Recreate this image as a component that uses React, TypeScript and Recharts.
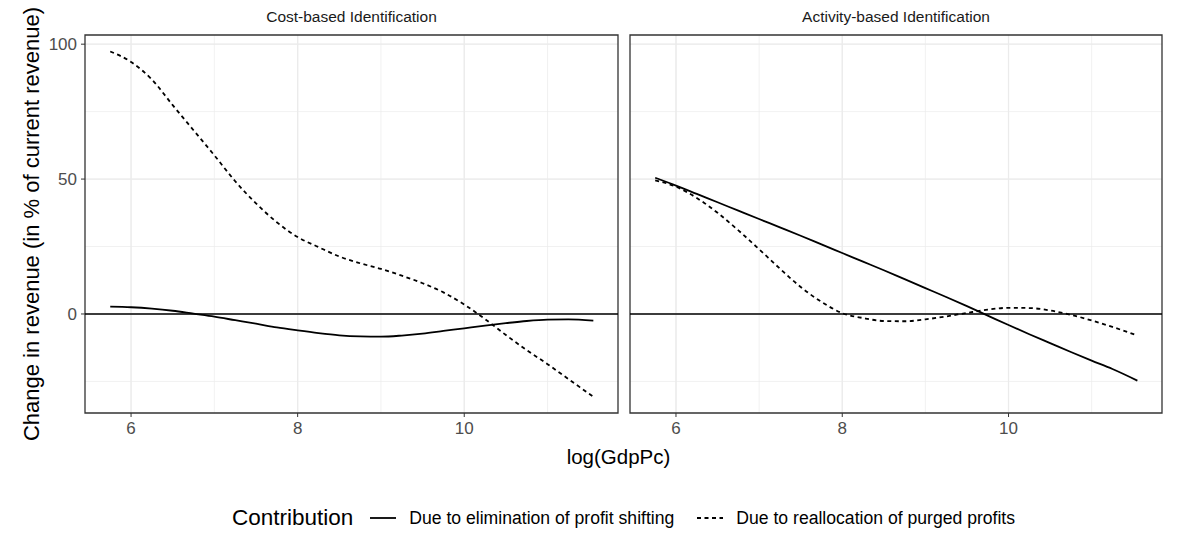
import React from 'react';
import {
  LineChart, Line, XAxis, YAxis, CartesianGrid, ReferenceLine, ReferenceArea
} from 'recharts';

// log(GdpPc) grid shared by both facets
const GDP = [5.75, 6, 6.25, 6.5, 6.75, 7, 7.25, 7.5, 7.75, 8, 8.25, 8.5, 8.75, 9, 9.25, 9.5, 9.75, 10, 10.25, 10.5, 10.75, 11, 11.25, 11.55];

// Cost-based Identification
const COST_ELIM = [2.7, 2.5, 2.0, 1.2, 0.1, -1.0, -2.3, -3.6, -5.0, -6.1, -7.1, -7.9, -8.3, -8.4, -8.0, -7.3, -6.3, -5.3, -4.3, -3.4, -2.6, -2.1, -2.0, -2.5];
const COST_REALLOC = [97.3, 93.4, 86.9, 77.4, 68.1, 58.8, 49.2, 41.0, 34.0, 28.5, 24.8, 21.3, 18.8, 16.7, 14.2, 11.4, 8.0, 3.5, -1.9, -7.8, -13.4, -18.6, -24.1, -30.7];

// Activity-based Identification
const ACT_ELIM = [50.5, 47.6, 44.5, 41.4, 38.3, 35.2, 32.1, 29.0, 25.8, 22.6, 19.4, 16.2, 12.9, 9.6, 6.3, 2.9, -0.6, -4.1, -7.5, -10.8, -14.1, -17.3, -20.4, -24.7];
const ACT_REALLOC = [49.5, 47.2, 43.0, 37.5, 31.0, 24.0, 16.8, 10.0, 4.5, 0.3, -1.5, -2.6, -2.7, -2.0, -0.9, 0.4, 1.6, 2.3, 2.2, 1.3, -0.3, -2.4, -4.8, -8.0];

const X_TICKS = [6, 8, 10];
const X_GRID = [6, 7, 8, 9, 10, 11];
const Y_TICKS = [0, 50, 100];
const Y_GRID = [-25, 0, 25, 50, 75, 100];
const X_DOMAIN: [number, number] = [5.447, 11.846];
const Y_DOMAIN: [number, number] = [-36.7, 103.4];

const PANELS = ['Cost-based Identification', 'Activity-based Identification'];
const LEGEND_TITLE = 'Contribution';
const LEGEND_LABELS = ['Due to elimination of profit shifting', 'Due to reallocation of purged profits'];

const FONT = '"Liberation Sans", Arial, sans-serif';
const DASH = '4 3.5';

const toRows = (elim: number[], realloc: number[]) =>
  GDP.map((x, i) => ({ x, elim: elim[i], realloc: realloc[i] }));

const Panel = ({ data, showY, left, width }: any) => (
  <div style={{ position: 'absolute', left, top: 0 }}>
    <LineChart
      width={width}
      height={450}
      data={data}
      margin={{ top: 35, right: 2, bottom: 0, left: showY ? 0 : 2 }}
    >
      <CartesianGrid horizontalValues={Y_GRID} verticalValues={X_GRID} stroke="#EBEBEB" strokeWidth={0.7} />
      <CartesianGrid horizontalValues={Y_TICKS} verticalValues={X_TICKS} stroke="#EBEBEB" strokeWidth={1.3} />
      <XAxis
        dataKey="x"
        type="number"
        domain={X_DOMAIN}
        ticks={X_TICKS}
        allowDataOverflow
        axisLine={false}
        tickLine={{ stroke: '#333333' }}
        tickSize={4}
        tickMargin={5}
        height={37}
        tick={{ fill: '#4D4D4D', fontSize: 17, fontFamily: FONT }}
      />
      <YAxis
        type="number"
        domain={Y_DOMAIN}
        ticks={Y_TICKS}
        allowDataOverflow
        hide={!showY}
        width={85}
        axisLine={false}
        tickLine={{ stroke: '#333333' }}
        tickSize={4}
        tickMargin={4}
        tick={{ fill: '#4D4D4D', fontSize: 17, fontFamily: FONT }}
        label={showY ? {
          value: 'Change in revenue (in % of current revenue)',
          angle: -90,
          position: 'center',
          dx: -11,
          style: { fill: '#000', fontSize: 22, fontFamily: FONT, textAnchor: 'middle' },
        } : undefined}
      />
      <ReferenceLine y={0} stroke="#000" strokeWidth={1.5} />
      <Line type="monotone" dataKey="elim" stroke="#000" strokeWidth={1.8} dot={false} isAnimationActive={false} />
      <Line type="monotone" dataKey="realloc" stroke="#000" strokeWidth={1.8} strokeDasharray={DASH} dot={false} isAnimationActive={false} />
      <ReferenceArea x1={X_DOMAIN[0]} x2={X_DOMAIN[1]} y1={Y_DOMAIN[0]} y2={Y_DOMAIN[1]} fill="none" stroke="#333333" strokeWidth={1.3} ifOverflow="visible" />
    </LineChart>
  </div>
);

const KeyLine = ({ dashed }: { dashed?: boolean }) => (
  <svg width={28} height={10} style={{ display: 'block' }}>
    <line x1={1} y1={5} x2={27} y2={5} stroke="#000" strokeWidth={1.8} strokeDasharray={dashed ? DASH : undefined} />
  </svg>
);

export default function App() {
  return (
    <div style={{ position: 'absolute', left: 0, top: 0, width: 1186, height: 535, background: '#fff', fontFamily: FONT, overflow: 'hidden' }}>
      {/* strip labels */}
      <div style={{ position: 'absolute', left: 85, top: 8, width: 533, textAlign: 'center', fontSize: 15.5, color: '#1A1A1A' }}>{PANELS[0]}</div>
      <div style={{ position: 'absolute', left: 630, top: 8, width: 532, textAlign: 'center', fontSize: 15.5, color: '#1A1A1A' }}>{PANELS[1]}</div>

      <Panel data={toRows(COST_ELIM, COST_REALLOC)} showY left={0} width={620} />
      <Panel data={toRows(ACT_ELIM, ACT_REALLOC)} showY={false} left={628} width={536} />

      {/* x-axis title */}
      <div style={{ position: 'absolute', left: 80, top: 445, width: 1077, textAlign: 'center', fontSize: 20.5, color: '#000' }}>log(GdpPc)</div>

      {/* legend, centred on the panel area */}
      <div style={{ position: 'absolute', left: 85, top: 505, width: 1077, display: 'flex', justifyContent: 'center', alignItems: 'center' }}>
        <span style={{ fontSize: 22.5, marginRight: 16 }}>{LEGEND_TITLE}</span>
        <KeyLine />
        <span style={{ fontSize: 17.6, marginLeft: 12, marginRight: 22 }}>{LEGEND_LABELS[0]}</span>
        <KeyLine dashed />
        <span style={{ fontSize: 17.6, marginLeft: 12 }}>{LEGEND_LABELS[1]}</span>
      </div>
    </div>
  );
}
